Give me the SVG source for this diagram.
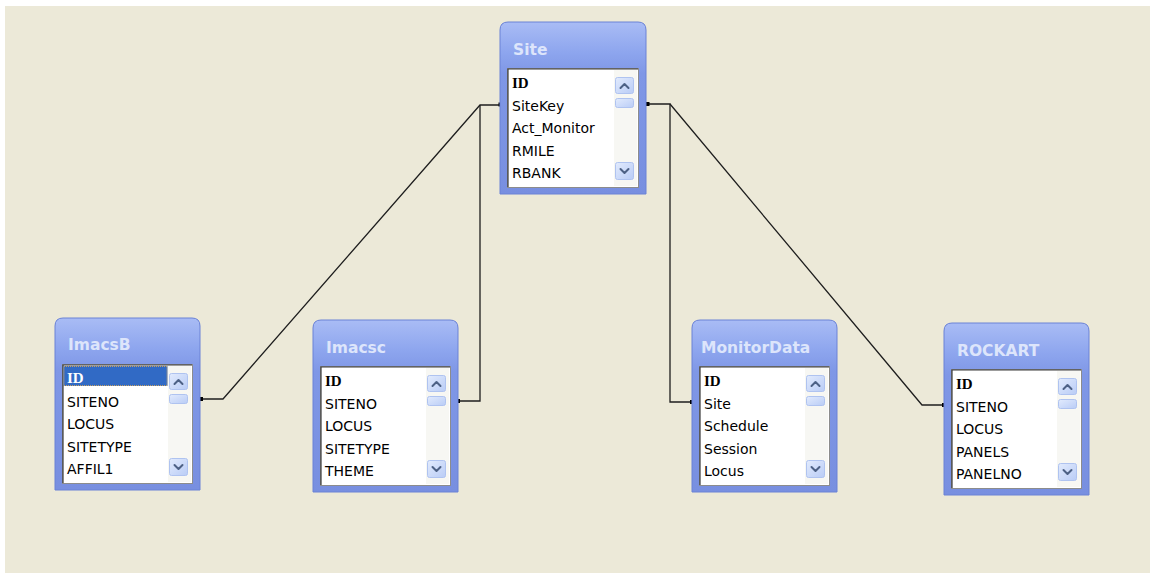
<svg xmlns="http://www.w3.org/2000/svg" width="1150" height="573" viewBox="0 0 1150 573">
  <style>
    .frame { fill: url(#frameGrad); stroke: #6A82D6; stroke-width: 1; }
    .title { font-family: "DejaVu Sans", "Liberation Sans", sans-serif; font-weight: bold; font-size: 15.5px; fill: #DDE5FB; }
    .list { fill: #FFFFFF; stroke: #8C8C8C; stroke-width: 1; }
    .listdark { fill: none; stroke: #3A3A3A; stroke-width: 1.2; }
    .track { fill: #F7F7F3; }
    .btn { fill: url(#btnGrad); stroke: #AFC3F0; stroke-width: 1; }
    .arrow { fill: none; stroke: #4D6185; stroke-width: 2; stroke-linecap: round; stroke-linejoin: round; }
    .field { font-family: "DejaVu Sans", "Liberation Sans", sans-serif; font-size: 14px; fill: #000000; }
    .key { font-family: "Liberation Serif", "DejaVu Serif", serif; font-weight: bold; font-size: 15px; fill: #000000; }
    .conn { fill: none; stroke: #1E1E1E; stroke-width: 1.3; }
    .dot { fill: #000000; }
  </style>
  <defs>
    <linearGradient id="frameGrad" x1="0" y1="0" x2="0" y2="1">
      <stop offset="0" stop-color="#A9BCF5"/>
      <stop offset="0.18" stop-color="#8DA5EE"/>
      <stop offset="0.3" stop-color="#7F97E6"/>
      <stop offset="1" stop-color="#788FE0"/>
    </linearGradient>
    <linearGradient id="btnGrad" x1="0" y1="0" x2="1" y2="1">
      <stop offset="0" stop-color="#E2EBFD"/>
      <stop offset="1" stop-color="#B9CCF6"/>
    </linearGradient>
  </defs>

  <rect x="0" y="0" width="1150" height="573" fill="#FFFFFF"/>
  <rect x="5" y="6" width="1145" height="567" fill="#ECE9D8"/>

  <g id="connectors">
    <polyline class="conn" points="502,105 480,105 223,399 200,399"/>
    <polyline class="conn" points="480,105 480,401 457,401"/>
    <polyline class="conn" points="647,104 670,104 670,402 692,402"/>
    <polyline class="conn" points="670,104 922,405 944,405"/>
    <rect class="dot" x="498.5" y="102.5" width="4" height="4"/>
    <rect class="dot" x="645.5" y="102" width="4" height="4"/>
    <rect class="dot" x="199" y="397" width="4" height="4"/>
    <rect class="dot" x="456" y="399" width="4" height="4"/>
    <rect class="dot" x="690" y="400" width="4" height="4"/>
    <rect class="dot" x="942" y="403" width="4" height="4"/>
  </g>

  <g id="node-site" transform="translate(500,22)">
    <path class="frame" d="M0,8 Q0,0 8,0 H138 Q146,0 146,8 V172 H0 Z"/>
    <text class="title" x="13" y="33">Site</text>
    <rect class="list" x="7.5" y="46.5" width="131" height="119"/>
    <polyline class="listdark" points="8,165 8,47 138,47"/>
    <rect class="track" x="114" y="48" width="23" height="116"/>
    <rect class="btn" x="115.5" y="55.5" width="18" height="16" rx="2"/>
    <polyline class="arrow" points="120.5,66 124.5,62 128.5,66"/>
    <rect class="btn" x="115.5" y="76.5" width="18" height="9" rx="2"/>
    <rect class="btn" x="115.5" y="140.5" width="18" height="17" rx="2"/>
    <polyline class="arrow" points="120.5,147 124.5,151 128.5,147"/>
    <text class="key" x="12" y="66">ID</text>
    <text class="field" x="12" y="88.5">SiteKey</text>
    <text class="field" x="12" y="111">Act_Monitor</text>
    <text class="field" x="12" y="133.5">RMILE</text>
    <text class="field" x="12" y="156">RBANK</text>
  </g>

  <g id="node-imacsb" transform="translate(55,318)">
    <path class="frame" d="M0,8 Q0,0 8,0 H137 Q145,0 145,8 V172 H0 Z"/>
    <text class="title" x="13" y="32">ImacsB</text>
    <rect class="list" x="7.5" y="46.5" width="130" height="119"/>
    <polyline class="listdark" points="8,165 8,47 137,47"/>
    <rect class="track" x="113" y="48" width="23" height="116"/>
    <rect x="8.5" y="48" width="104" height="20" fill="#316AC5"/>
    <rect x="9" y="48.5" width="103" height="19" fill="none" stroke="#C8A060" stroke-width="1" stroke-dasharray="1,1"/>
    <rect class="btn" x="114.5" y="55.5" width="18" height="16" rx="2"/>
    <polyline class="arrow" points="119.5,66 123.5,62 127.5,66"/>
    <rect class="btn" x="114.5" y="76.5" width="18" height="9" rx="2"/>
    <rect class="btn" x="114.5" y="140.5" width="18" height="17" rx="2"/>
    <polyline class="arrow" points="119.5,147 123.5,151 127.5,147"/>
    <text class="key" x="12" y="65" fill="#FFFFFF" style="fill:#FFFFFF">ID</text>
    <text class="field" x="12" y="88.5">SITENO</text>
    <text class="field" x="12" y="111">LOCUS</text>
    <text class="field" x="12" y="133.5">SITETYPE</text>
    <text class="field" x="12" y="156">AFFIL1</text>
  </g>

  <g id="node-imacsc" transform="translate(313,320)">
    <path class="frame" d="M0,8 Q0,0 8,0 H137 Q145,0 145,8 V172 H0 Z"/>
    <text class="title" x="13" y="33">Imacsc</text>
    <rect class="list" x="7.5" y="46.5" width="130" height="119"/>
    <polyline class="listdark" points="8,165 8,47 137,47"/>
    <rect class="track" x="113" y="48" width="23" height="116"/>
    <rect class="btn" x="114.5" y="55.5" width="18" height="16" rx="2"/>
    <polyline class="arrow" points="119.5,66 123.5,62 127.5,66"/>
    <rect class="btn" x="114.5" y="76.5" width="18" height="9" rx="2"/>
    <rect class="btn" x="114.5" y="140.5" width="18" height="17" rx="2"/>
    <polyline class="arrow" points="119.5,147 123.5,151 127.5,147"/>
    <text class="key" x="12" y="66">ID</text>
    <text class="field" x="12" y="88.5">SITENO</text>
    <text class="field" x="12" y="111">LOCUS</text>
    <text class="field" x="12" y="133.5">SITETYPE</text>
    <text class="field" x="12" y="156">THEME</text>
  </g>

  <g id="node-monitordata" transform="translate(692,320)">
    <path class="frame" d="M0,8 Q0,0 8,0 H137 Q145,0 145,8 V172 H0 Z"/>
    <text class="title" x="9" y="33">MonitorData</text>
    <rect class="list" x="7.5" y="46.5" width="130" height="119"/>
    <polyline class="listdark" points="8,165 8,47 137,47"/>
    <rect class="track" x="113" y="48" width="23" height="116"/>
    <rect class="btn" x="114.5" y="55.5" width="18" height="16" rx="2"/>
    <polyline class="arrow" points="119.5,66 123.5,62 127.5,66"/>
    <rect class="btn" x="114.5" y="76.5" width="18" height="9" rx="2"/>
    <rect class="btn" x="114.5" y="140.5" width="18" height="17" rx="2"/>
    <polyline class="arrow" points="119.5,147 123.5,151 127.5,147"/>
    <text class="key" x="12" y="66">ID</text>
    <text class="field" x="12" y="88.5">Site</text>
    <text class="field" x="12" y="111">Schedule</text>
    <text class="field" x="12" y="133.5">Session</text>
    <text class="field" x="12" y="156">Locus</text>
  </g>

  <g id="node-rockart" transform="translate(944,323)">
    <path class="frame" d="M0,8 Q0,0 8,0 H137 Q145,0 145,8 V172 H0 Z"/>
    <text class="title" x="13" y="33">ROCKART</text>
    <rect class="list" x="7.5" y="46.5" width="130" height="119"/>
    <polyline class="listdark" points="8,165 8,47 137,47"/>
    <rect class="track" x="113" y="48" width="23" height="116"/>
    <rect class="btn" x="114.5" y="55.5" width="18" height="16" rx="2"/>
    <polyline class="arrow" points="119.5,66 123.5,62 127.5,66"/>
    <rect class="btn" x="114.5" y="76.5" width="18" height="9" rx="2"/>
    <rect class="btn" x="114.5" y="140.5" width="18" height="17" rx="2"/>
    <polyline class="arrow" points="119.5,147 123.5,151 127.5,147"/>
    <text class="key" x="12" y="66">ID</text>
    <text class="field" x="12" y="88.5">SITENO</text>
    <text class="field" x="12" y="111">LOCUS</text>
    <text class="field" x="12" y="133.5">PANELS</text>
    <text class="field" x="12" y="156">PANELNO</text>
  </g>
</svg>
